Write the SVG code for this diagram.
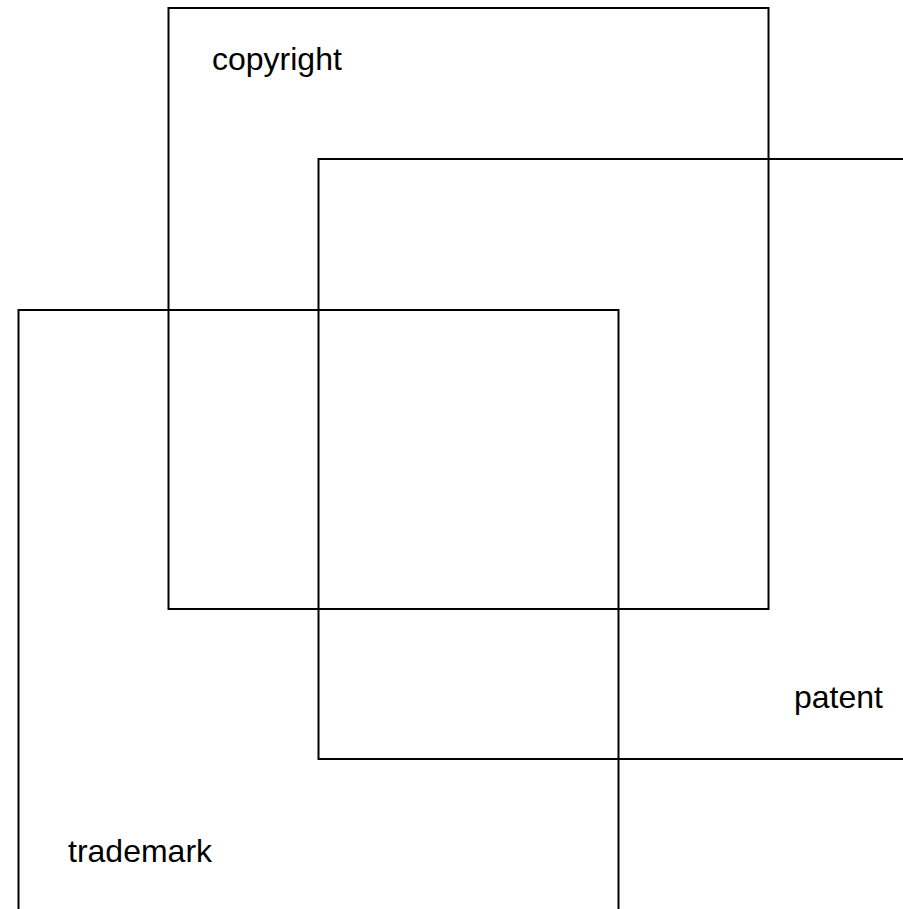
<svg xmlns="http://www.w3.org/2000/svg" width="903" height="909" viewBox="0 0 903 909">
<style>
.box{fill:none;stroke:#000;stroke-width:2}
.lbl{font-family:"Liberation Sans",Arial,sans-serif;font-size:32px;fill:#000}
</style>
<rect width="903" height="909" fill="#fff"/>
<g id="copyright">
<rect class="box" x="168.5" y="8" width="600" height="601"/>
<text class="lbl" x="212" y="70">copyright</text>
</g>
<g id="patent">
<rect class="box" x="318.5" y="159" width="600" height="600"/>
<text class="lbl" x="794" y="708">patent</text>
</g>
<g id="trademark">
<rect class="box" x="18.5" y="310" width="600" height="620"/>
<text class="lbl" x="68" y="862">trademark</text>
</g>
<g id="connectors"></g>
</svg>
